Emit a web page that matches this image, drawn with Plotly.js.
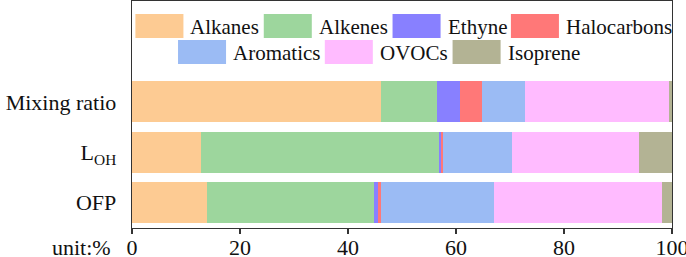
<!DOCTYPE html>
<html><head><meta charset="utf-8">
<script src="https://cdn.plot.ly/plotly-3.0.1.min.js"></script>
<style>html,body{margin:0;padding:0;background:#fff}#c{width:686px;height:257px}</style>
</head><body><div id="c"></div>
<script>
// Data
const categories = ["Mixing ratio", "L<sub>OH</sub>", "OFP"];
const groups = ["Alkanes", "Alkenes", "Ethyne", "Halocarbons", "Aromatics", "OVOCs", "Isoprene"];
const alkanes     = [46.2, 12.7, 13.8];
const alkenes     = [10.2, 44.1, 31.1];
const ethyne      = [4.3, 0.5, 0.7];
const halocarbons = [4.2, 0.2, 0.5];
const aromatics   = [7.8, 12.8, 20.9];
const ovocs       = [26.8, 23.6, 31.1];
const isoprene    = [0.5, 6.1, 1.9];
const xTicks = [0, 20, 40, 60, 80, 100];

const seriesValues = [alkanes, alkenes, ethyne, halocarbons, aromatics, ovocs, isoprene];
const colors = ["#FDCB93", "#9DD69D", "#8880FF", "#FF7878", "#9BBBF4", "#FFBBFF", "#B3B394"];
const yPos = [2, 1, 0];
const FONT = "'Liberation Serif', 'Times New Roman', serif";

const traces = groups.map((g, i) => ({
  type: "bar", orientation: "h", name: g,
  x: seriesValues[i], y: yPos,
  marker: {color: colors[i], line: {width: 0}},
  width: 0.81, showlegend: false, hoverinfo: "x+name"
}));

// custom legend (pixel geometry of plot area)
const L = 132.3, W = 539.7, B = 228, H = 227;
const px = v => (v - L) / W, py = v => (B - v) / H;
const legendRows = [[0, 1, 2, 3], [4, 5, 6]];
const swatchStarts = [[135.7, 264, 392.7, 511], [178.3, 325, 452.7]];
const rowY = [26, 52];
const shapes = [], annotations = [];
legendRows.forEach((row, r) => {
  row.forEach((i, k) => {
    const x = swatchStarts[r][k];
    shapes.push({type: "rect", xref: "paper", yref: "paper",
      x0: px(x), x1: px(x + 48), y0: py(rowY[r] + 12), y1: py(rowY[r] - 12),
      fillcolor: colors[i], line: {width: 0}});
    annotations.push({xref: "paper", yref: "paper", x: px(x + 53), y: py(rowY[r] + 1),
      xanchor: "left", yanchor: "middle", text: groups[i], showarrow: false,
      font: {family: FONT, size: 21, color: "#111"}});
  });
});
annotations.push({xref: "paper", yref: "paper", x: px(113), y: py(247),
  xanchor: "right", yanchor: "middle", text: "unit:%", showarrow: false,
  font: {family: FONT, size: 22, color: "#111"}});

const layout = {
  width: 686, height: 257,
  margin: {l: 132, r: 14, t: 1, b: 29},
  barmode: "stack", bargap: 0.19,
  paper_bgcolor: "#fff", plot_bgcolor: "#fff",
  font: {family: FONT, size: 22, color: "#111"},
  xaxis: {range: [0, 100], tickvals: xTicks, ticktext: xTicks.map(String),
    showgrid: false, zeroline: false, showline: true, linecolor: "#333", linewidth: 1.3,
    mirror: true, ticks: "outside", ticklen: 5, tickcolor: "#333", tickwidth: 1.3,
    ticklabelstandoff: -6, ticklabeloverflow: "allow",
    tickfont: {family: FONT, size: 22, color: "#111"}},
  yaxis: {range: [-0.5, 4.0], tickvals: yPos, ticktext: categories,
    showgrid: false, zeroline: false, showline: true, linecolor: "#333", linewidth: 1.3,
    mirror: true, ticks: "", ticklabelstandoff: 10,
    tickfont: {family: FONT, size: 22, color: "#111"}},
  shapes: shapes, annotations: annotations, showlegend: false
};
Plotly.newPlot("c", traces, layout, {displayModeBar: false, staticPlot: true});
</script></body></html>
